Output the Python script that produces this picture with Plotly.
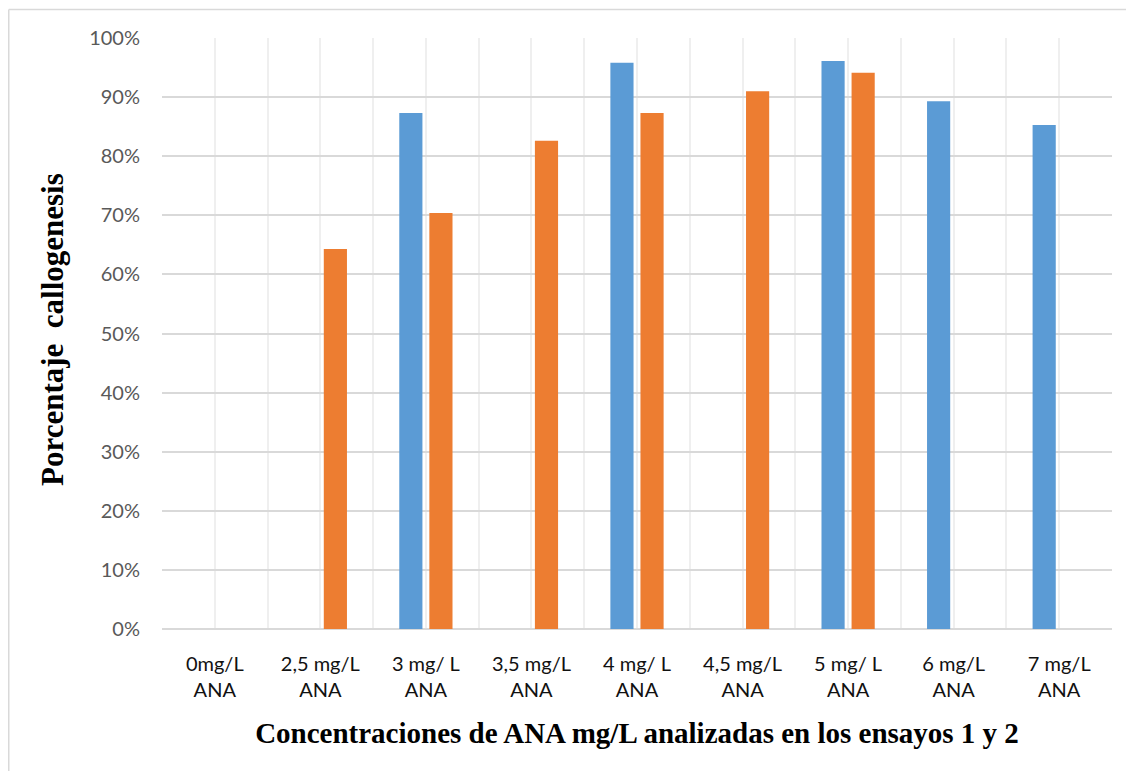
import plotly.graph_objects as go

categories = ["0mg/L<br>ANA", "2,5 mg/L<br>ANA", "3 mg/ L<br>ANA", "3,5 mg/L<br>ANA",
              "4 mg/ L<br>ANA", "4,5 mg/L<br>ANA", "5 mg/ L<br>ANA", "6 mg/L<br>ANA", "7 mg/L<br>ANA"]
ensayo1 = [0, 0, 0.873, 0, 0.958, 0, 0.961, 0.893, 0.853]
ensayo2 = [0, 0.643, 0.704, 0.826, 0.873, 0.910, 0.941, 0, 0]
y_ticks = [i / 10 for i in range(11)]
x_title = "<b>Concentraciones de ANA mg/L analizadas en los ensayos 1 y 2</b>"
y_title = "<b>Porcentaje&nbsp; callogenesis</b>"

x_pos = list(range(len(categories)))
boundaries = [i - 0.5 for i in range(len(categories) + 1)]

W, H = 1126, 763
L, R, T, B = 154, 22, 30, 142
PW, PH = W - L - R, H - T - B

fig = go.Figure()
fig.add_trace(go.Bar(x=x_pos, y=ensayo1, name="Ensayo 1", marker_color="#5B9BD5",
                     marker_line_width=0))
fig.add_trace(go.Bar(x=x_pos, y=ensayo2, name="Ensayo 2", marker_color="#ED7D31",
                     marker_line_width=0))

fig.update_layout(
    width=W, height=H,
    margin=dict(l=L, r=R, t=T, b=B),
    paper_bgcolor="white", plot_bgcolor="white",
    barmode="group", bargap=0.43, bargroupgap=0.23,
    showlegend=False,
    font=dict(family="Lato, Open Sans, sans-serif", size=18, color="#000000"),
)
fig.update_xaxes(
    range=[-0.5, len(categories) - 0.5],
    tickvals=x_pos, ticktext=categories,
    showgrid=True, gridcolor="#efefef", gridwidth=1.5,
    minor=dict(tickvals=boundaries, showgrid=True, gridcolor="#efefef", gridwidth=1.5, ticks=""),
    zeroline=False, showline=False, ticks="",
    ticklabelstandoff=21,
    automargin=False,
    tickfont=dict(family="Lato, Open Sans, sans-serif", size=20, color="#111111"),
    title=dict(text=x_title,
               font=dict(family="Liberation Serif, Times New Roman, serif", size=29, color="#000000"),
               standoff=22),
)
fig.update_yaxes(
    range=[0, 1], tickvals=y_ticks, tickformat=".0%",
    showgrid=True, gridcolor="#d9d9d9", gridwidth=2,
    zeroline=True, zerolinecolor="#d9d9d9", zerolinewidth=2,
    showline=False, ticks="",
    ticklabelstandoff=21,
    automargin=False,
    tickfont=dict(family="Lato, Open Sans, sans-serif", size=20, color="#595959"),
)

# y-axis title placed as rotated annotation
fig.add_annotation(
    text=y_title, textangle=-90, showarrow=False,
    xref="paper", yref="paper",
    x=(44 - L) / PW, y=1 - (322 - T) / PH,
    xanchor="center", yanchor="middle",
    font=dict(family="Liberation Serif, Times New Roman, serif", size=31, color="#000000"),
)

# outer chart border (top and left visible edges)
fig.add_shape(type="line", xref="paper", yref="paper",
              x0=(0.75 - L) / PW, x1=(W - L) / PW,
              y0=1 + (T - 1.5) / PH, y1=1 + (T - 1.5) / PH,
              line=dict(color="#d9d9d9", width=1.5))
fig.add_shape(type="line", xref="paper", yref="paper",
              x0=(0.75 - L) / PW, x1=(0.75 - L) / PW,
              y0=1 + (T - 1.5) / PH, y1=-B / PH,
              line=dict(color="#d9d9d9", width=1.5))

fig.write_html("out.html")
